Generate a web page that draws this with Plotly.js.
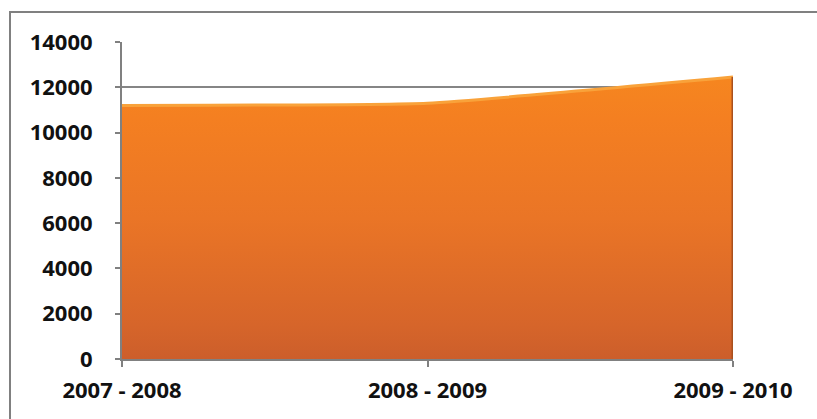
<!DOCTYPE html>
<html>
<head>
<meta charset="utf-8">
<script src="https://cdn.plot.ly/plotly-3.0.1.min.js"></script>
<style>
  html, body { margin: 0; padding: 0; background: #ffffff; overflow: hidden; }
  #wrap { position: relative; width: 817px; height: 419px; }
  #frame { position: absolute; left: 9px; top: 11px; width: 900px; height: 500px; border: 2px solid #808080; box-sizing: border-box; }
  #chart { position: absolute; left: 0; top: 0; width: 817px; height: 419px; }
</style>
</head>
<body>
<div id="wrap">
  <div id="frame"></div>
  <div id="chart"></div>
</div>
<script>
const categories = ["2007 - 2008", "2008 - 2009", "2009 - 2010"];
const values = [11200, 11300, 12450];
const yTicks = [0, 2000, 4000, 6000, 8000, 10000, 12000, 14000];

const fontSpec = { family: "Open Sans, Liberation Sans, sans-serif", size: 22, color: "#111111", weight: 700 };

const area = {
  type: "scatter",
  mode: "lines",
  x: categories,
  y: values,
  fill: "tozeroy",
  opacity: 1,
  line: { color: "#F9A23A", width: 3, shape: "spline", smoothing: 0.4 },
  fillgradient: {
    type: "vertical",
    start: 0,
    stop: Math.max(...values),
    colorscale: [
      [0, "rgb(204,94,43)"],
      [0.12, "rgb(214,101,42)"],
      [0.5, "rgb(234,117,38)"],
      [0.85, "rgb(244,127,33)"],
      [1, "rgb(246,134,31)"]
    ]
  },
  hoverinfo: "skip",
  showlegend: false
};

const last = categories.length - 1;
const edge = {
  type: "scatter",
  mode: "lines",
  x: [categories[last], categories[last]],
  y: [0, values[last]],
  line: { color: "#A9501E", width: 3 },
  hoverinfo: "skip",
  showlegend: false
};

const layout = {
  width: 817,
  height: 419,
  margin: { l: 122, r: 84, t: 42, b: 60 },
  paper_bgcolor: "rgba(0,0,0,0)",
  plot_bgcolor: "rgba(0,0,0,0)",
  showlegend: false,
  xaxis: {
    type: "category",
    range: [0, 2],
    showgrid: false,
    zeroline: false,
    showline: true,
    linecolor: "#808080",
    linewidth: 2,
    ticks: "outside",
    ticklen: 6,
    tickwidth: 2,
    tickcolor: "#808080",
    tickfont: fontSpec,
    ticklabelstandoff: 5,
    fixedrange: true
  },
  yaxis: {
    range: [0, 14000],
    tickvals: yTicks,
    ticktext: yTicks.map(String),
    showgrid: true,
    gridcolor: "#858585",
    gridwidth: 2,
    zeroline: false,
    showline: true,
    linecolor: "#808080",
    linewidth: 2,
    ticks: "outside",
    ticklen: 5,
    tickwidth: 2,
    tickcolor: "#808080",
    tickfont: fontSpec,
    ticklabelstandoff: 18,
    fixedrange: true
  }
};

Plotly.newPlot("chart", [area, edge], layout, { displayModeBar: false, staticPlot: true });
</script>
</body>
</html>
